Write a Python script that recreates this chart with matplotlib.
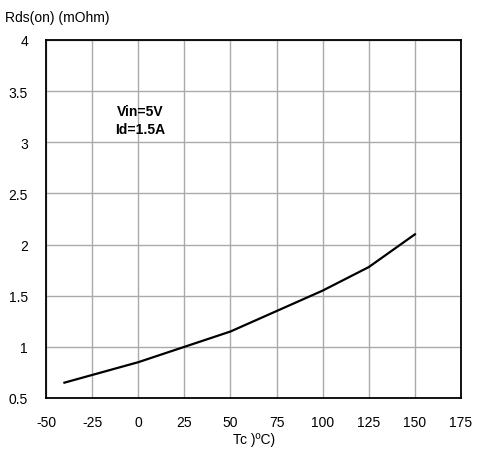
import numpy as np
import matplotlib.pyplot as plt

# Rds(on) vs case temperature
tc = [-40, 0, 25, 50, 75, 100, 125, 150]
rds = [0.65, 0.85, 1.0, 1.15, 1.35, 1.55, 1.78, 2.1]

x_ticks = [-50, -25, 0, 25, 50, 75, 100, 125, 150, 175]
y_ticks = [0.5, 1, 1.5, 2, 2.5, 3, 3.5, 4]
y_tick_labels = ["0.5", "1", "1.5", "2", "2.5", "3", "3.5", "4"]

plt.rcParams["font.family"] = ["Liberation Sans", "DejaVu Sans"]
plt.rcParams["axes.unicode_minus"] = False

fig = plt.figure(figsize=(4.8, 4.6), dpi=100)
ax = fig.add_axes([46 / 480, 1 - 399 / 460, 415 / 480, 358 / 460])

ax.plot(tc, rds, color="black", lw=1.6)

ax.set_xlim(-50, 175)
ax.set_ylim(0.5, 4)
ax.set_xticks(x_ticks)
ax.set_yticks(y_ticks)
ax.set_yticklabels(y_tick_labels)
ax.tick_params(length=0, labelsize=10, pad=12)
ax.tick_params(axis="y", pad=13)
ax.grid(True, color="#aaaaaa", lw=1)
ax.set_axisbelow(True)
for s in ax.spines.values():
    s.set_color("black")
    s.set_linewidth(1.3)

ax.text(1, 3.31, "Vin=5V", fontsize=10, fontweight="bold", ha="center", va="center")
ax.text(1, 3.13, "Id=1.5A", fontsize=10, fontweight="bold", ha="center", va="center")

fig.text(5 / 480, 1 - 18 / 460, "Rds(on) (mOhm)", fontsize=10, ha="left", va="center")
fig.text(254 / 480, 1 - 440 / 460, "Tc )ºC)", fontsize=10, ha="center", va="center")

fig.savefig("out.png", dpi=100)
